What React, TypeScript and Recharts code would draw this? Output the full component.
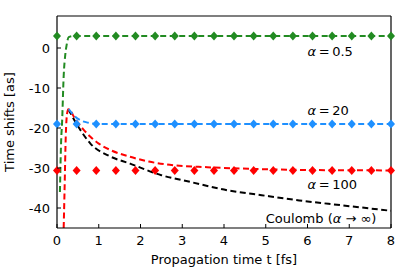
import { ComposedChart, Line, ReferenceDot, Scatter, XAxis, YAxis } from "recharts";

const FONT = "DejaVu Sans, sans-serif";
const GREEN = "#228B22";
const BLUE = "#1E90FF";
const RED = "#FF0000";
const BLACK = "#000000";

const xTicks = [0, 1, 2, 3, 4, 5, 6, 7, 8];
const yTicks = [-40, -30, -20, -10, 0];

// sampled propagation times (diamonds)
const sampleTimes = [0, 0.47, 0.94, 1.41, 1.88, 2.35, 2.82, 3.29, 3.76, 4.24, 4.71, 5.18, 5.65, 6.12, 6.59, 7.06, 7.53, 8];
const alpha05Marks = [3, 3, 3, 3, 3, 3, 3, 3, 3, 3, 3, 3, 3, 3, 3, 3, 3, 3];
const alpha20Marks = [-19, -19, -19, -19, -19, -19, -19, -19, -19, -19, -19, -19, -19, -19, -19, -19, -19, -19];
const alpha100Marks = [-30.6, -30.6, -30.6, -30.6, -30.6, -30.6, -30.6, -30.6, -30.6, -30.6, -30.6, -30.6, -30.6, -30.6, -30.6, -30.6, -30.6, -30.6];

// dashed curves
const alpha05T = [0.07, 0.1, 0.12, 0.16, 0.2, 0.23, 0.28, 0.4, 0.6, 1, 8];
const alpha05V = [-36, -23, -19, -7, -1.5, 0.7, 2.7, 3, 3, 3, 3];
const alpha20T = [0.28, 0.4, 0.55, 0.75, 1, 2, 8];
const alpha20V = [-15.3, -16.8, -18, -18.7, -19, -19, -19];
const alpha100T = [0.16, 0.18, 0.21, 0.24, 0.27, 0.45, 0.62, 0.8, 1, 1.3, 1.75, 2.2, 2.7, 3.6, 4.6, 6, 8];
const alpha100V = [-45, -36, -22, -16.5, -15.3, -18, -20.2, -22.2, -23.9, -25.6, -27.2, -28.4, -29.2, -29.8, -30.2, -30.5, -30.6];
const coulombT = [0.27, 0.5, 0.8, 1.25, 1.75, 2.5, 3.2, 4.1, 4.9, 5.8, 6.8, 8];
const coulombV = [-15.3, -19.5, -23.9, -27, -28.9, -31.8, -33.5, -35.6, -36.8, -38.1, -39.3, -40.7];

const zip = (t: number[], v: number[]) => t.map((x, i) => ({ t: x, v: v[i] }));

const BottomTick = (p: any) => (
  <g>
    <line x1={p.x} x2={p.x} y1={p.y} y2={p.y - 4} stroke={BLACK} />
    <text x={p.x} y={p.y + 17} textAnchor="middle" fontSize={13} fontFamily={FONT} fill={BLACK}>
      {p.payload.value}
    </text>
  </g>
);
const TopTick = (p: any) => <line x1={p.x} x2={p.x} y1={p.y} y2={p.y + 4} stroke={BLACK} />;
const LeftTick = (p: any) => (
  <g>
    <line x1={p.x} x2={p.x + 4} y1={p.y} y2={p.y} stroke={BLACK} />
    <text x={p.x - 7} y={p.y} dy="0.36em" textAnchor="end" fontSize={13} fontFamily={FONT} fill={BLACK}>
      {p.payload.value}
    </text>
  </g>
);
const RightTick = (p: any) => <line x1={p.x} x2={p.x - 4} y1={p.y} y2={p.y} stroke={BLACK} />;

const diamond = (color: string) => (p: any) => (
  <polygon
    points={`${p.cx},${p.cy - 4.5} ${p.cx + 4},${p.cy} ${p.cx},${p.cy + 4.5} ${p.cx - 4},${p.cy}`}
    fill={color}
  />
);

const note = (parts: (string | { a: true })[]) => (p: any) => (
  <text x={p.cx} y={p.cy} dy="0.36em" fontSize={13} fontFamily={FONT} fill={BLACK}>
    {parts.map((s, i) =>
      typeof s === "string" ? <tspan key={i}>{s}</tspan> : <tspan key={i} fontStyle="italic">α</tspan>
    )}
  </text>
);

export default function App() {
  const dash = "6 3.5";
  return (
    <div style={{ position: "absolute", left: 0, top: 0 }}>
      <ComposedChart width={415} height={271} margin={{ top: 0, right: 0, bottom: 0, left: 0 }}>
        <XAxis
          xAxisId="b"
          dataKey="t"
          type="number"
          domain={[0, 8]}
          ticks={xTicks}
          height={43}
          tickSize={0}
          tickMargin={0}
          tick={BottomTick}
          axisLine={{ stroke: BLACK, strokeWidth: 1.2 }}
          label={(l: any) => (
            <text
              x={l.viewBox.x + l.viewBox.width / 2}
              y={l.viewBox.y + 36}
              textAnchor="middle"
              fontSize={13}
              fontFamily={FONT}
            >
              Propagation time t [fs]
            </text>
          )}
        />
        <XAxis
          xAxisId="t"
          orientation="top"
          type="number"
          domain={[0, 8]}
          ticks={xTicks}
          height={16}
          tickSize={0}
          tickMargin={0}
          tick={TopTick}
          axisLine={{ stroke: BLACK, strokeWidth: 1.2 }}
        />
        <YAxis
          yAxisId="l"
          dataKey="v"
          type="number"
          domain={[-45, 8]}
          allowDataOverflow
          ticks={yTicks}
          width={57}
          tickSize={0}
          tickMargin={0}
          tick={LeftTick}
          axisLine={{ stroke: BLACK, strokeWidth: 1.2 }}
          label={(l: any) => (
            <text
              x={14}
              y={l.viewBox.y + l.viewBox.height / 2}
              textAnchor="middle"
              fontSize={13}
              fontFamily={FONT}
              transform={`rotate(-90 14 ${l.viewBox.y + l.viewBox.height / 2})`}
            >
              Time shifts [as]
            </text>
          )}
        />
        <YAxis
          yAxisId="r"
          orientation="right"
          type="number"
          domain={[-45, 8]}
          ticks={yTicks}
          width={24}
          tickSize={0}
          tickMargin={0}
          tick={RightTick}
          axisLine={{ stroke: BLACK, strokeWidth: 1.2 }}
        />

        <Line xAxisId="b" yAxisId="l" data={zip(coulombT, coulombV)} dataKey="v" type="monotone" stroke={BLACK} strokeWidth={2} strokeDasharray={dash} dot={false} isAnimationActive={false} />
        <Line xAxisId="b" yAxisId="l" data={zip(alpha100T, alpha100V)} dataKey="v" type="monotone" stroke={RED} strokeWidth={2} strokeDasharray={dash} dot={false} isAnimationActive={false} />
        <Line xAxisId="b" yAxisId="l" data={zip(alpha20T, alpha20V)} dataKey="v" type="monotone" stroke={BLUE} strokeWidth={2} strokeDasharray={dash} dot={false} isAnimationActive={false} />
        <Line xAxisId="b" yAxisId="l" data={zip(alpha05T, alpha05V)} dataKey="v" type="monotone" stroke={GREEN} strokeWidth={2} strokeDasharray={dash} dot={false} isAnimationActive={false} />

        <Scatter xAxisId="b" yAxisId="l" data={zip(sampleTimes, alpha100Marks)} dataKey="v" shape={diamond(RED)} isAnimationActive={false} />
        <Scatter xAxisId="b" yAxisId="l" data={zip(sampleTimes, alpha20Marks)} dataKey="v" shape={diamond(BLUE)} isAnimationActive={false} />
        <Scatter xAxisId="b" yAxisId="l" data={zip(sampleTimes, alpha05Marks)} dataKey="v" shape={diamond(GREEN)} isAnimationActive={false} />

        <ReferenceDot xAxisId="b" yAxisId="l" x={6} y={-0.8} shape={note([{ a: true }, "\u2009=\u20090.5"])} />
        <ReferenceDot xAxisId="b" yAxisId="l" x={6} y={-15.6} shape={note([{ a: true }, "\u2009=\u200920"])} />
        <ReferenceDot xAxisId="b" yAxisId="l" x={6} y={-34.1} shape={note([{ a: true }, "\u2009=\u2009100"])} />
        <ReferenceDot xAxisId="b" yAxisId="l" x={5} y={-42.6} shape={note(["Coulomb (", { a: true }, " → ∞)"])} />
      </ComposedChart>
    </div>
  );
}
